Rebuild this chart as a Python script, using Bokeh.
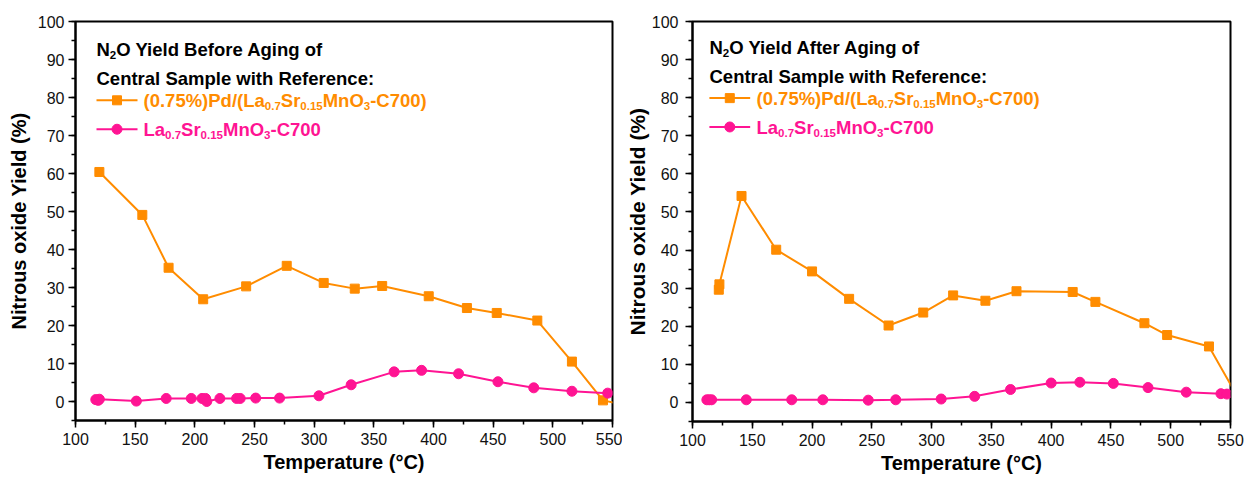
import numpy as np
from bokeh.plotting import figure
from bokeh.layouts import row
from bokeh.models import Range1d, SingleIntervalTicker, Label
from bokeh.embed import file_html
from bokeh.resources import INLINE

# ---------------- data ----------------
before_pd_T = [120, 156, 178, 207, 243, 277, 308, 334, 357, 396, 428, 453, 487, 516, 542, 565]
before_pd_Y = [60.4, 49.1, 35.2, 26.9, 30.3, 35.7, 31.2, 29.7, 30.4, 27.7, 24.6, 23.3, 21.3, 10.5, 0.3, -1.2]
before_ref_T = [117, 119, 120, 151, 176, 197, 206, 209, 210, 221, 235, 238, 251, 271, 304, 331, 367, 390, 421, 454, 484, 516, 546]
before_ref_Y = [0.5, 0.3, 0.6, 0.1, 0.8, 0.8, 0.8, 0.8, 0.0, 0.8, 0.8, 0.8, 0.9, 0.9, 1.5, 4.4, 7.8, 8.2, 7.3, 5.2, 3.6, 2.7, 2.2]

after_pd_T = [122, 122.5, 141, 170, 200, 231, 264, 293, 318, 345, 371, 418, 437, 478, 497, 532, 558]
after_pd_Y = [29.6, 31.0, 54.2, 40.1, 34.4, 27.2, 20.2, 23.6, 28.1, 26.7, 29.2, 29.0, 26.4, 20.8, 17.7, 14.7, 0.3]
after_ref_T = [112, 114, 116, 145, 183, 209, 247, 270, 308, 336, 366, 400, 424, 452, 481, 513, 542, 547]
after_ref_Y = [0.7, 0.7, 0.7, 0.7, 0.7, 0.7, 0.6, 0.7, 0.9, 1.6, 3.4, 5.1, 5.3, 5.0, 3.9, 2.7, 2.3, 2.2]

x_ticks = [100, 150, 200, 250, 300, 350, 400, 450, 500, 550]
y_ticks = [0, 10, 20, 30, 40, 50, 60, 70, 80, 90, 100]

ORANGE = "#FF8C00"
PINK = "#FF1493"
FONT = "Liberation Sans"

# Liberation Sans Bold (Arial-metric) advance widths
W = {' ': 278, '(': 333, ')': 333, '%': 889, '.': 278, ':': 333, '/': 278, '-': 333,
     'A': 722, 'B': 722, 'C': 722, 'L': 611, 'M': 833, 'N': 722, 'O': 778, 'P': 667,
     'R': 722, 'S': 667, 'T': 611, 'Y': 667,
     'a': 556, 'c': 556, 'd': 611, 'e': 556, 'f': 333, 'g': 611, 'h': 611, 'i': 278,
     'l': 278, 'm': 889, 'n': 611, 'o': 611, 'p': 611, 'r': 389, 's': 556, 't': 333,
     'u': 611, 'w': 778, 'x': 556}


def tw(s, size):
    return sum(W.get(c, 556) for c in s) * size / 1000.0


def rich(p, x, y, xo, yo, segs, color, size=18.5, sub=11.5):
    cx = xo
    for text, kind in segs:
        if kind == 'n':
            fs, dy = size, 0
        elif kind == 'sub':
            fs, dy = sub, -5
        else:
            fs, dy = sub, 8
        p.add_layout(Label(x=x, y=y, x_offset=cx, y_offset=yo + dy, text=text,
                           text_font=FONT, text_font_style="bold",
                           text_font_size=f"{fs}px", text_color=color,
                           text_align="left", text_baseline="alphabetic"))
        cx += tw(text, fs)
    return cx


def make(fw, fh, mbl, mbt, mbb, mbr, title_word, pdT, pdY, refT, refY, lx, base,
         ylab_size, ylab_standoff, ytick_standoff, xlab_standoff):
    p = figure(width=mbl + fw + mbr, height=mbt + fh + mbb,
               x_range=Range1d(100, 550), y_range=Range1d(-5, 100),
               output_backend="svg", toolbar_location=None,
               min_border_left=mbl, min_border_right=mbr, min_border_top=mbt, min_border_bottom=mbb)
    p.grid.visible = False
    p.outline_line_color = "black"
    p.outline_line_width = 2
    p.background_fill_color = "white"
    p.border_fill_color = "white"

    p.xaxis.ticker = SingleIntervalTicker(interval=50, num_minor_ticks=2)
    p.yaxis.ticker = SingleIntervalTicker(interval=10, num_minor_ticks=2)
    for ax in (p.xaxis, p.yaxis):
        ax.axis_line_width = 2
        ax.axis_line_color = "black"
        ax.major_tick_line_width = 1.5
        ax.minor_tick_line_width = 1.5
        ax.major_tick_out = 7
        ax.major_tick_in = 0
        ax.minor_tick_out = 4
        ax.minor_tick_in = 0
        ax.major_label_text_font = FONT
        ax.major_label_text_font_size = "16px"
        ax.major_label_text_color = "#111111"
        ax.axis_label_text_font = FONT
        ax.axis_label_text_font_style = "bold"
        ax.axis_label_text_color = "#000000"
    p.xaxis.major_label_standoff = 5
    p.yaxis.major_label_standoff = ytick_standoff
    p.xaxis.axis_label = "Temperature (°C)"
    p.xaxis.axis_label_text_font_size = "20px"
    p.xaxis.axis_label_standoff = xlab_standoff
    p.yaxis.axis_label = "Nitrous oxide Yield (%)"
    p.yaxis.axis_label_text_font_size = f"{ylab_size}px"
    p.yaxis.axis_label_standoff = ylab_standoff

    # series
    p.line(pdT, pdY, line_color=ORANGE, line_width=2)
    p.scatter(pdT, pdY, marker="square", size=9, fill_color=ORANGE, line_color=ORANGE)
    p.line(refT, refY, line_color=PINK, line_width=2)
    p.scatter(refT, refY, marker="circle", size=10, fill_color=PINK, line_color=PINK)

    # helpers pixel -> data (legend block only)
    def px2x(px):
        return 100 + px * 450.0 / fw

    def py2y(py):
        return 100 - py * 105.0 / fh

    b1, b2, b3, b4, m3, m4 = base
    rich(p, 100, 100, lx, -b1, [("N", 'n'), ("2", 'sub'), (f"O Yield {title_word} Aging of", 'n')], "#000000")
    rich(p, 100, 100, lx, -b2, [("Central Sample with Reference:", 'n')], "#000000")
    for (mk, col, my, by, segs, sz) in [
        ("square", ORANGE, m3, b3,
         [("(0.75%)Pd/(La", 'n'), ("0.7", 'sub'), ("Sr", 'n'), ("0.15", 'sub'), ("MnO", 'n'), ("3", 'sub'), ("-C700)", 'n')], 9),
        ("circle", PINK, m4, b4,
         [("La", 'n'), ("0.7", 'sub'), ("Sr", 'n'), ("0.15", 'sub'), ("MnO", 'n'), ("3", 'sub'), ("-C700", 'n')], 10)]:
        yy = py2y(my)
        p.line([px2x(lx), px2x(lx + 41)], [yy, yy], line_color=col, line_width=2)
        p.scatter([px2x(lx + 20.5)], [yy], marker=mk, size=sz, fill_color=col, line_color=col)
        rich(p, 100, 100, lx + 47, -by, segs, col)
    return p


p1 = make(537, 400, 75, 20, 60, 10, "Before", before_pd_T, before_pd_Y, before_ref_T, before_ref_Y,
          21, (28, 57, 79, 108, 79, 108), 20, 5, 4, 3)
p2 = make(541, 402, 67, 21, 58, 14, "After", after_pd_T, after_pd_Y, after_ref_T, after_ref_Y,
          17, (26, 55, 77, 106, 77, 106), 21, 0, 7, 3)

layout = row(p1, p2)
open("out.html", "w").write(file_html(layout, INLINE))
